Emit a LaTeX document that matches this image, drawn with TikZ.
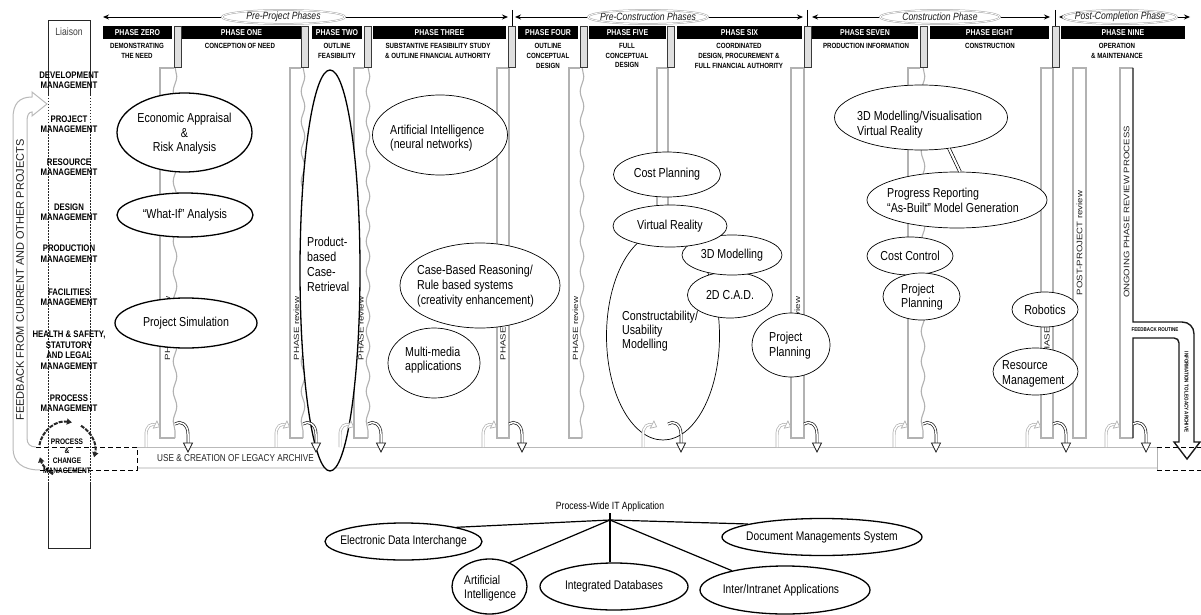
\documentclass[tikz,border=0pt]{standalone}
\usepackage{graphicx}
\usepackage{fontspec}
\setmainfont{Liberation Sans}
\newfontfamily\cnd[FakeStretch=0.82]{Liberation Sans}
\usetikzlibrary{shapes.geometric,arrows.meta,decorations.pathmorphing}
\newcommand{\fs}[2]{\fontsize{#1}{#2}\selectfont}

\tikzset{
  % hollow hook arrow rising from the archive band into a review column
  inarr/.pic={
    \draw[gray!60, line width=0.7pt, double=white, double distance=1.5pt]
      (-14,9) -- (-14,-3) .. controls (-14,-12) and (-9,-15) .. (-4,-13);
    \draw[gray!60, line width=0.7pt, fill=white]
      (-0.4,-11.2) -- (-6.7,-9.8) -- (-3.1,-17) -- cycle;
  },
  % hook arrow leaving a review column down into the archive band
  outarr/.pic={
    \draw[gray!20!black, line width=0.7pt, double=white, double distance=1.5pt]
      (0,-14) .. controls (5,-18) and (13,-14) .. (13,-4) -- (13,6);
    \draw[gray!20!black, line width=0.7pt, fill=white]
      (13,14) -- (8.5,5) -- (17.5,5) -- cycle;
  },
}

\begin{document}
\begin{tikzpicture}[x=1pt,y=-1pt,
  spanline/.style={line width=0.9pt, {Stealth[length=6pt,width=5pt]}-{Stealth[length=6pt,width=5pt]}},
  phell/.style={ellipse, draw=gray!70, line width=0.5pt, double=white, double distance=0.8pt, fill=white, inner sep=0pt},
  phtxt/.style={font=\cnd\itshape\fs{10.5}{12}, text=gray!20!black, inner sep=0pt},
  bar/.style={rectangle, fill=black, text=white, font=\cnd\bfseries\fs{8.5}{9}, minimum height=13, inner sep=0pt},
  sepbar/.style={rectangle, draw=gray!45!black, fill=gray!25, line width=0.6pt, minimum width=7, minimum height=41, inner sep=0pt},
  desc/.style={font=\cnd\bfseries\fs{7.5}{9.8}, align=center, inner sep=0pt, anchor=north},
  lbl/.style={font=\cnd\bfseries\fs{9.5}{10.5}, align=center, inner sep=0pt},
  coll/.style={gray!60, line width=1.1pt},
  wavy/.style={decorate, decoration={snake, amplitude=1.8pt, segment length=30pt}},
  revlbl/.style={rotate=90, font=\fs{7.5}{8}, text=gray!25!black, inner sep=0pt},
  ell/.style={ellipse, draw=black, line width=0.7pt, fill=white, inner sep=0pt},
  ellb/.style={ell, line width=1.3pt},
  etxt/.style={font=\cnd\fs{13}{14.5}, align=center, inner sep=0pt},
  etxtl/.style={font=\cnd\fs{13}{14.5}, align=left, inner sep=0pt, anchor=west},
  conn/.style={black, line width=1.2pt},
  dashline/.style={black, line width=1pt, dash pattern=on 5pt off 3pt},
  circarr/.style={gray!30!black, line width=2pt, dash pattern=on 4pt off 1.2pt, -{Triangle[length=5pt,width=6pt]}},
]
\useasboundingbox (0,0) rectangle (1201,615);
\fill[white] (0,0) rectangle (1201,615);

% ---------- span arrows with phase-group labels ----------
\coordinate (sa0) at (103,17); \coordinate (sa1) at (508,17);
\coordinate (sb0) at (515,17); \coordinate (sb1) at (803,17);
\coordinate (sc0) at (812,17); \coordinate (sc1) at (1050,17);
\coordinate (sd0) at (1059,17); \coordinate (sd1) at (1190,17);
\draw[spanline] (sa0) -- (sa1);
\draw[spanline] (sb0) -- (sb1);
\draw[spanline] (sc0) -- (sc1);
\draw[spanline] (sd0) -- (sd1);
\foreach \x in {512,807,1055} \draw[line width=1pt] (\x,10) -- (\x,27);
\node[phell, minimum width=123, minimum height=14] (gpre) at (283.5,17) {};
\node[phtxt] (gpre-t) at (gpre) {Pre-Project Phases};
\node[phell, minimum width=120, minimum height=14] (gcon) at (648,17) {};
\node[phtxt] (gcon-t) at (gcon) {Pre-Construction Phases};
\node[phell, minimum width=120, minimum height=14] (gbuild) at (940,17) {};
\node[phtxt] (gbuild-t) at (gbuild) {Construction Phase};
\node[phell, minimum width=114, minimum height=14] (gpost) at (1120,17) {};
\node[phtxt] (gpost-t) at (gpost) {Post-Completion Phase};

% ---------- phase header bars ----------
\node[bar, minimum width=69]  (ph0) at (137.5,32.5) {PHASE ZERO};
\node[bar, minimum width=119] (ph1) at (241.5,32.5) {PHASE ONE};
\node[bar, minimum width=50]  (ph2) at (337,32.5)   {PHASE TWO};
\node[bar, minimum width=133] (ph3) at (439.5,32.5) {PHASE THREE};
\node[bar, minimum width=60]  (ph4) at (548,32.5)   {PHASE FOUR};
\node[bar, minimum width=77]  (ph5) at (627.5,32.5) {PHASE FIVE};
\node[bar, minimum width=125] (ph6) at (739.5,32.5) {PHASE SIX};
\node[bar, minimum width=106] (ph7) at (865,32.5)   {PHASE SEVEN};
\node[bar, minimum width=119] (ph8) at (989.5,32.5) {PHASE EIGHT};
\node[bar, minimum width=124] (ph9) at (1123,32.5)  {PHASE NINE};

\node[desc] (d0) at (137,43)  {DEMONSTRATING\\THE NEED};
\node[desc] (d1) at (240,43)  {CONCEPTION OF NEED};
\node[desc] (d2) at (337,43)  {OUTLINE\\FEASIBILITY};
\node[desc] (d3) at (438,43)  {SUBSTANTIVE FEASIBILITY STUDY\\\& OUTLINE FINANCIAL AUTHORITY};
\node[desc] (d4) at (548,43)  {OUTLINE\\CONCEPTUAL\\DESIGN};
\node[desc] (d5) at (627,43)  {FULL\\CONCEPTUAL\\DESIGN};
\node[desc] (d6) at (739,43)  {COORDINATED\\DESIGN, PROCUREMENT \&\\FULL FINANCIAL AUTHORITY};
\node[desc] (d7) at (866,43)  {PRODUCTION INFORMATION};
\node[desc] (d8) at (990,43)  {CONSTRUCTION};
\node[desc] (d9) at (1117,43) {OPERATION\\\& MAINTENANCE};

% ---------- phase review columns ----------
\foreach \xl/\xr/\sx in {160/175/174, 290/303/301, 354/368/364, 569/582/580, 908/923/920}{
  \draw[coll] (\sx,68) -- (\xl,68) -- (\xl,438) -- (\xr,438);
  \draw[coll, wavy] (\xr,67) -- (\xr,438);
}
\foreach \xl/\xr/\sx in {497/509/508, 657/668/667, 791/804/804, 1041/1053/1052}{
  \draw[coll] (\sx,68) -- (\xl,68) -- (\xl,438) -- (\xr,438) -- (\xr,67);
}
\foreach \x/\sx in {177.5/1, 304.5/2, 368/3, 512/4, 583.5/5, 671/6, 807.5/7, 924/8, 1056/9}{
  \node[sepbar] (sep\sx) at (\x,46.5) {};
}
\foreach \x/\k in {167.5/1, 296.5/2, 361/3, 503/4, 575.5/5, 662.5/6, 797.5/7, 1047/9}{
  \node[revlbl] (rev\k) at (\x,328.5) {\scalebox{1.3}[1]{PHASE review}};
}

% post-project review column
\draw[coll] (1073,68) rectangle (1086,438);
\node[revlbl, font=\fs{8}{8}] (postlbl) at (1079.5,243) {\scalebox{1.2}[1]{POST-PROJECT review}};

% ongoing review column with its feedback routine
\draw[coll] (1133,68) -- (1120,68) -- (1120,438) -- (1133,438);
\draw[gray!20!black, line width=1.4pt]
  (1133,68) -- (1133,322) -- (1182,322) .. controls (1189,322) and (1194,327) .. (1194,334)
  -- (1194,442) -- (1200,442) -- (1187,459) -- (1174,442) -- (1179,442) -- (1179,343)
  .. controls (1179,340) and (1177,338) .. (1174,338) -- (1133,338) -- (1133,438);
\node[revlbl, font=\fs{8}{8}] (onglbl) at (1126.5,212) {\scalebox{1.2}[1]{ONGOING PHASE REVIEW PROCESS}};
\node[font=\cnd\bfseries\fs{5.5}{6}, inner sep=0pt] (fbr) at (1155,330) {FEEDBACK ROUTINE};
\node[rotate=-90, font=\cnd\bfseries\fs{5.5}{6}, inner sep=0pt] (fbr2) at (1186.5,392) {INFORMATION TO LEGACY ARCHIVE};

% ---------- legacy archive band ----------
\draw[gray!55, line width=0.9pt] (137,447) -- (1157,447);
\draw[gray!25, line width=2.2pt] (137,468) -- (1157,468);
\draw[gray!60, line width=0.8pt] (1157,447) -- (1157,470);
\draw[dashline] (1157,447) -- (1201,447) (1157,470) -- (1201,470);
\draw[dashline] (36,447) -- (137,447) -- (137,470) -- (40,470);
\node[font=\cnd\fs{10}{11}, text=gray!30!black, anchor=west, inner sep=0pt] (legacy) at (157,458) {USE \& CREATION OF LEGACY ARCHIVE};

% ---------- liaison column ----------
\draw[gray!30!black, line width=0.8pt] (48,95) -- (48,20) -- (90,20) -- (90,95);
\draw[gray!30!black, line width=0.7pt, dash pattern=on 1.5pt off 1.5pt] (48,95) -- (48,482) (90,95) -- (90,482);
\draw[gray!30!black, line width=0.8pt] (48,482) -- (48,548) -- (90,548) -- (90,482);
\node[font=\cnd\fs{10.5}{11}, text=gray!50!black] (liaison) at (69,32) {Liaison};
\node[lbl] (m1) at (69,80)    {DEVELOPMENT\\MANAGEMENT};
\node[lbl] (m2) at (69,124)   {PROJECT\\MANAGEMENT};
\node[lbl] (m3) at (69,167)   {RESOURCE\\MANAGEMENT};
\node[lbl] (m4) at (69,212)   {DESIGN\\MANAGEMENT};
\node[lbl] (m5) at (69,253.5) {PRODUCTION\\MANAGEMENT};
\node[lbl] (m6) at (69,297)   {FACILITIES\\MANAGEMENT};
\node[lbl] (m7) at (69,350)   {HEALTH \& SAFETY,\\STATUTORY\\AND LEGAL\\MANAGEMENT};
\node[lbl] (m8) at (69,403)   {PROCESS\\MANAGEMENT};

% feedback loop on the far left
\draw[gray!55, line width=1pt]
  (40,470) .. controls (22,470) and (13,462) .. (13,448) -- (13,118)
  .. controls (13,104) and (19,97) .. (32,97) -- (32,92) -- (47,104) -- (32,116) -- (32,112)
  .. controls (29,112) and (27,115) .. (27,121) -- (27,438) .. controls (27,444) and (30,447) .. (36,447);
\node[rotate=90, font=\fs{11}{11}, text=gray!25!black, inner sep=0pt] (fbtext) at (20,280) {FEEDBACK FROM CURRENT AND OTHER PROJECTS};

% process & change management cycle
\coordinate (pcm) at (67,450);
\draw[circarr] (pcm) ++(120:28) arc[start angle=120, end angle=165, radius=28];
\draw[circarr] (pcm) ++(190:28) arc[start angle=190, end angle=280, radius=28];
\draw[circarr] (pcm) ++(300:28) arc[start angle=300, end angle=375, radius=28];
\node[font=\cnd\bfseries\fs{8}{9.6}, align=center, inner sep=0pt] (pcm-t) at (67,456) {PROCESS\\\&\\CHANGE\\MANAGEMENT};

% ---------- IT application ellipses ----------
\node[ellb, minimum width=135, minimum height=79] (econ) at (184.5,132.5) {};
\node[etxt] (econ-t) at (184.5,134) {Economic Appraisal\\\&\\Risk Analysis};
\node[ellb, minimum width=136, minimum height=44] (whatif) at (185,215) {};
\node[etxt] (whatif-t) at (whatif) {“What-If” Analysis};
\node[ellb, minimum width=142, minimum height=50] (psim) at (186,323) {};
\node[etxt] (psim-t) at (psim) {Project Simulation};
\node[ellb, minimum width=60, minimum height=401] (pbcr) at (330,270.5) {};
\node[etxtl, font=\cnd\fs{13}{15}] (pbcr-t) at (307,264) {Product-\\based\\Case-\\Retrieval};

\node[ell, minimum width=135, minimum height=80] (ainn) at (440,135) {};
\node[etxtl] (ainn-t) at (390,138) {Artificial Intelligence\\(neural networks)};
\node[ell, minimum width=160, minimum height=85] (cbr) at (480,285.5) {};
\node[etxtl, font=\cnd\fs{13}{15}] (cbr-t) at (417,286) {Case-Based Reasoning/\\Rule based systems\\(creativity enhancement)};
\node[ell, minimum width=92, minimum height=70] (mm) at (434,363) {};
\node[etxtl] (mm-t) at (405,360) {Multi-media\\applications};

\node[ell, minimum width=113, minimum height=208] (cum) at (663,336) {};
\node[etxtl, font=\cnd\fs{13}{14}] (cum-t) at (622,331) {Constructability/\\Usability\\Modelling};
\node[ell, minimum width=85, minimum height=46] (cad) at (730,295) {};
\node[etxt] (cad-t) at (cad) {2D C.A.D.};
\node[ell, minimum width=100, minimum height=40] (m3d) at (732,255) {};
\node[etxt] (m3d-t) at (m3d) {3D Modelling};
\node[ell, minimum width=114, minimum height=42] (vr) at (670,226) {};
\node[etxt] (vr-t) at (vr) {Virtual Reality};
\node[ell, minimum width=107, minimum height=45] (cp) at (667,174.5) {};
\node[etxt] (cp-t) at (cp) {Cost Planning};
\node[ell, minimum width=78, minimum height=64] (pp6) at (791,345) {};
\node[etxtl, font=\cnd\fs{13}{15}] (pp6-t) at (769,345.5) {Project\\Planning};

\node[ell, minimum width=173, minimum height=65] (vis3d) at (921,117.5) {};
\node[etxtl, font=\cnd\fs{13}{15}] (vis3d-t) at (857,124.5) {3D Modelling/Visualisation\\Virtual Reality};
\node[ell, minimum width=180, minimum height=56] (prog) at (957,200) {};
\node[etxtl, font=\cnd\fs{13}{15}] (prog-t) at (887,200.5) {Progress Reporting\\“As-Built” Model Generation};
\draw[line width=0.7pt, double=white, double distance=2pt] (vis3d.-48) -- (prog.84);
\node[ell, minimum width=86, minimum height=38] (cc) at (910,256) {};
\node[etxt] (cc-t) at (cc) {Cost Control};
\node[ell, minimum width=77, minimum height=47] (pp7) at (921.5,296.5) {};
\node[etxtl, font=\cnd\fs{13}{14}] (pp7-t) at (901,297) {Project\\Planning};
\node[ell, minimum width=66, minimum height=35] (rob) at (1045,309.5) {};
\node[etxt] (rob-t) at (rob) {Robotics};
\node[ell, minimum width=85, minimum height=47] (resm) at (1035.5,371.5) {};
\node[etxtl, font=\cnd\fs{13}{15}] (resm-t) at (1002,373.5) {Resource\\Management};

% ---------- hook arrows between columns and archive ----------
\foreach \xl/\xr in {160/175, 290/303, 354/368, 497/509, 657/668, 791/804, 908/923, 1041/1053, 1120/1133}{
  \pic at (\xl,438) {inarr};
  \pic at (\xr,438) {outarr};
}

% ---------- process-wide IT applications ----------
\coordinate (hub) at (610,520);
\node[font=\cnd\fs{10.5}{12}, inner sep=1pt] (itapp) at (610,507) {Process-Wide IT Application};
\node[ellb, minimum width=157, minimum height=37] (edi) at (403.5,541.5) {};
\node[etxt, font=\cnd\fs{12.5}{14}] (edi-t) at (edi) {Electronic Data Interchange};
\node[ellb, minimum width=200, minimum height=37] (dms) at (822,537) {};
\node[etxt, font=\cnd\fs{12.5}{14}] (dms-t) at (dms) {Document Managements System};
\node[ellb, minimum width=75, minimum height=55] (aint) at (489.5,586.5) {};
\node[etxtl, font=\cnd\fs{12.5}{14}] (aint-t) at (464,588) {Artificial\\Intelligence};
\node[ellb, minimum width=148, minimum height=47] (idb) at (614,586.5) {};
\node[etxt, font=\cnd\fs{12.5}{14}] (idb-t) at (idb) {Integrated Databases};
\node[ellb, minimum width=170, minimum height=48] (inet) at (785,590) {};
\node[etxt, font=\cnd\fs{12.5}{14}] (inet-t) at (781,590) {Inter/Intranet Applications};
\draw[conn] (itapp.south) -- (hub);
\draw[conn] (hub) -- (edi.15);
\draw[conn] (hub) -- (dms.170);
\draw[conn] (hub) -- (aint.50);
\draw[conn] (hub) -- (hub |- idb.north);
\draw[conn] (hub) -- (inet.160);
\end{tikzpicture}
\end{document}
